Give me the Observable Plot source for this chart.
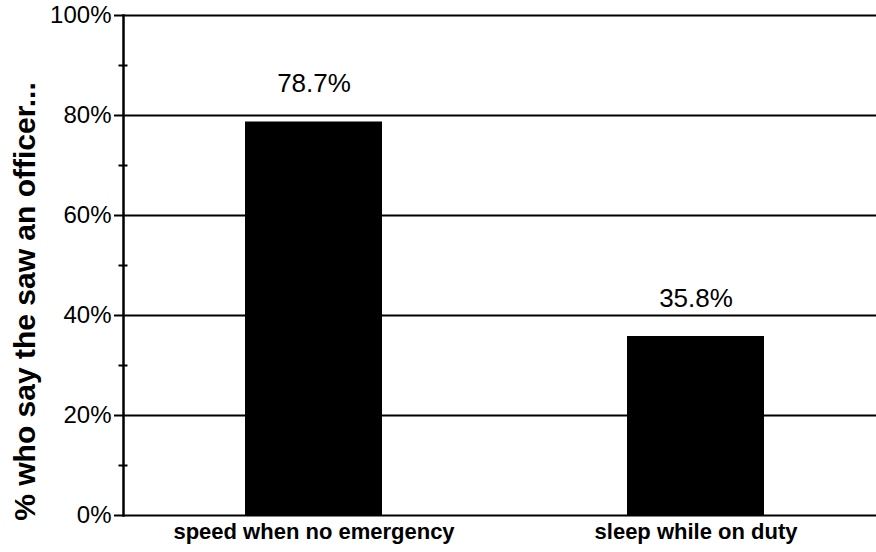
<!DOCTYPE html>
<html><head><meta charset="utf-8">
<script src="https://cdn.jsdelivr.net/npm/d3@7"></script>
<script src="https://cdn.jsdelivr.net/npm/@observablehq/plot@0.6"></script>
<style>body{margin:0;background:#fff}</style>
</head><body><div id="chart"></div>
<script>
const categories = ["speed when no emergency", "sleep while on duty"];
const values = [78.7, 35.8];
const valueLabels = ["78.7%", "35.8%"];
const majorTicks = [0, 20, 40, 60, 80, 100];
const minorTicks = [10, 30, 50, 70, 90];
const tickLabels = ["0%", "20%", "40%", "60%", "80%", "100%"];
const yTitle = "% who say the saw an officer...";

const data = categories.map((c, i) => ({category: c, value: values[i], label: valueLabels[i]}));

const chart = Plot.plot({
  width: 876, height: 552,
  marginLeft: 123, marginRight: 0, marginTop: 15, marginBottom: 37,
  style: {fontFamily: "'Liberation Sans', Arial, sans-serif", color: "black", background: "white", overflow: "visible"},
  x: {domain: categories, paddingInner: 0.641, paddingOuter: 0.306, align: 0.52, label: null},
  y: {domain: [0, 100], label: null},
  marks: [
    Plot.gridY({ticks: majorTicks, stroke: "black", strokeOpacity: 1, strokeWidth: 2.2}),
    Plot.barY(data, {x: "category", y: "value", fill: "black"}),
    Plot.text(data, {x: "category", y: "value", text: "label", dy: -38, fontSize: 26, fill: "black"}),
    Plot.frame({anchor: "left", stroke: "black", strokeWidth: 2.5}),
    Plot.axisY({ticks: majorTicks, tickFormat: d => tickLabels[majorTicks.indexOf(d)], tickSize: 9, tickPadding: 3, fontSize: 24, strokeWidth: 2, label: null}),
    Plot.axisY({ticks: minorTicks, tickFormat: () => "", tickSize: 9, dx: 4.5, strokeWidth: 2, label: null}),
    Plot.axisX({tickSize: 0, tickPadding: 8, fontSize: 22, fontWeight: "bold", label: null}),
    Plot.text([yTitle], {text: d => d, frameAnchor: "left", textAnchor: "middle", rotate: -90, dx: -98.5, dy: 36, fontSize: 30, fontWeight: "bold", fill: "black"})
  ]
});
document.getElementById("chart").appendChild(chart);
</script>
</body></html>
